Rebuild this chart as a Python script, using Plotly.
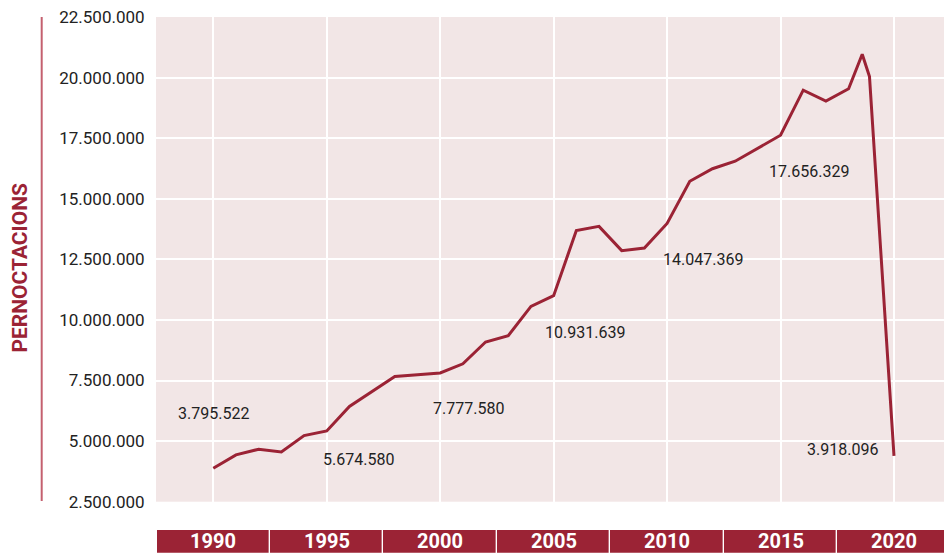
import plotly.graph_objects as go

# ---- data ----
years = [1990, 1991, 1992, 1993, 1994, 1995, 1996, 1997, 1998, 1999,
         2000, 2001, 2002, 2003, 2004, 2005, 2006, 2007, 2008, 2009,
         2010, 2011, 2012, 2013, 2014, 2015, 2016, 2017, 2018, 2018.6,
         2018.92, 2020]
overnight_stays = [3880000, 4430000, 4665000, 4550000, 5230000, 5420000, 6430000, 7050000,
                   7670000, 7740000, 7810000, 8190000, 9090000, 9350000, 10560000, 11000000,
                   13690000, 13860000, 12860000, 12970000, 13980000, 15720000, 16240000,
                   16550000, 17070000, 17620000, 19480000, 19030000, 19540000, 20960000,
                   20040000, 4390000]

label_years = [1990, 1995, 2000, 2005, 2010, 2015, 2020]
label_texts = ["3.795.522", "5.674.580", "7.777.580", "10.931.639",
               "14.047.369", "17.656.329", "3.918.096"]
band_years = [1990, 1995, 2000, 2005, 2010, 2015, 2020]
band_labels = ["1990", "1995", "2000", "2005", "2010", "2015", "2020"]
y_ticks = [2500000, 5000000, 7500000, 10000000, 12500000, 15000000,
           17500000, 20000000, 22500000]

# ---- style ----
RED = "#9b2335"
BG = "#f2e6e6"
TXT = "#222222"
label_pos = [(1990.0, 6150000), (1996.42, 4250000), (2001.26, 6340000),
             (2006.36, 9470000), (2011.6, 12490000), (2016.24, 16110000),
             (2017.74, 4660000)]

fig = go.Figure()

fig.add_trace(go.Scatter(
    x=years, y=overnight_stays, mode="lines",
    line=dict(color=RED, width=3), hoverinfo="skip", showlegend=False,
    xaxis="x", yaxis="y"))

fig.add_trace(go.Bar(
    x=band_years, y=[1] * len(band_years), width=5,
    marker=dict(color=RED, line=dict(color="white", width=1.2)),
    hoverinfo="skip", showlegend=False, xaxis="x", yaxis="y2"))

annotations = []
for (lx, ly), t in zip(label_pos, label_texts):
    annotations.append(dict(x=lx, y=ly, xref="x", yref="y", text=t, showarrow=False,
                            font=dict(family="Roboto, Inter, sans-serif", size=16, color=TXT),
                            xanchor="center", yanchor="middle"))
for bx, bt in zip(band_years, band_labels):
    annotations.append(dict(x=bx, y=0.5, xref="x", yref="y2", text="<b>" + bt + "</b>",
                            showarrow=False, yshift=1,
                            font=dict(family="Roboto, sans-serif", size=20, color="white"),
                            xanchor="center", yanchor="middle"))
annotations.append(dict(x=0, xref="paper", xshift=-136, y=0.5335, yref="paper",
                        text="<b>PERNOCTACIONS</b>", textangle=-90, showarrow=False,
                        font=dict(family="Roboto, sans-serif", size=21, color=RED),
                        xanchor="center", yanchor="middle"))

fig.update_layout(
    width=944, height=554,
    margin=dict(l=156, r=0, t=17, b=0, autoexpand=False),
    paper_bgcolor="white",
    plot_bgcolor=BG,
    separators=",.",
    xaxis=dict(range=[1987.475, 2022.204], tickvals=band_years, showticklabels=False,
               showgrid=True, gridcolor="white", gridwidth=1.5, zeroline=False,
               showline=False, ticks=""),
    yaxis=dict(domain=[0.0974, 1], range=[2500000, 22500000], tickvals=y_ticks,
               tickformat=",d", showgrid=True, gridcolor="white", gridwidth=2,
               zeroline=False, showline=False, ticks="outside", ticklen=7,
               tickcolor="rgba(0,0,0,0)",
               tickfont=dict(family="Roboto, Inter, sans-serif", size=17, color=TXT)),
    yaxis2=dict(domain=[0, 0.0447], range=[0, 1], visible=False, fixedrange=True),
    bargap=0,
    annotations=annotations,
    shapes=[dict(type="line", xref="paper", yref="paper",
                 x0=(41.7 - 156) / 788, x1=(41.7 - 156) / 788, y0=0.0987, y1=1,
                 line=dict(color="#c4606f", width=2))],
)

fig.write_html("out.html")
